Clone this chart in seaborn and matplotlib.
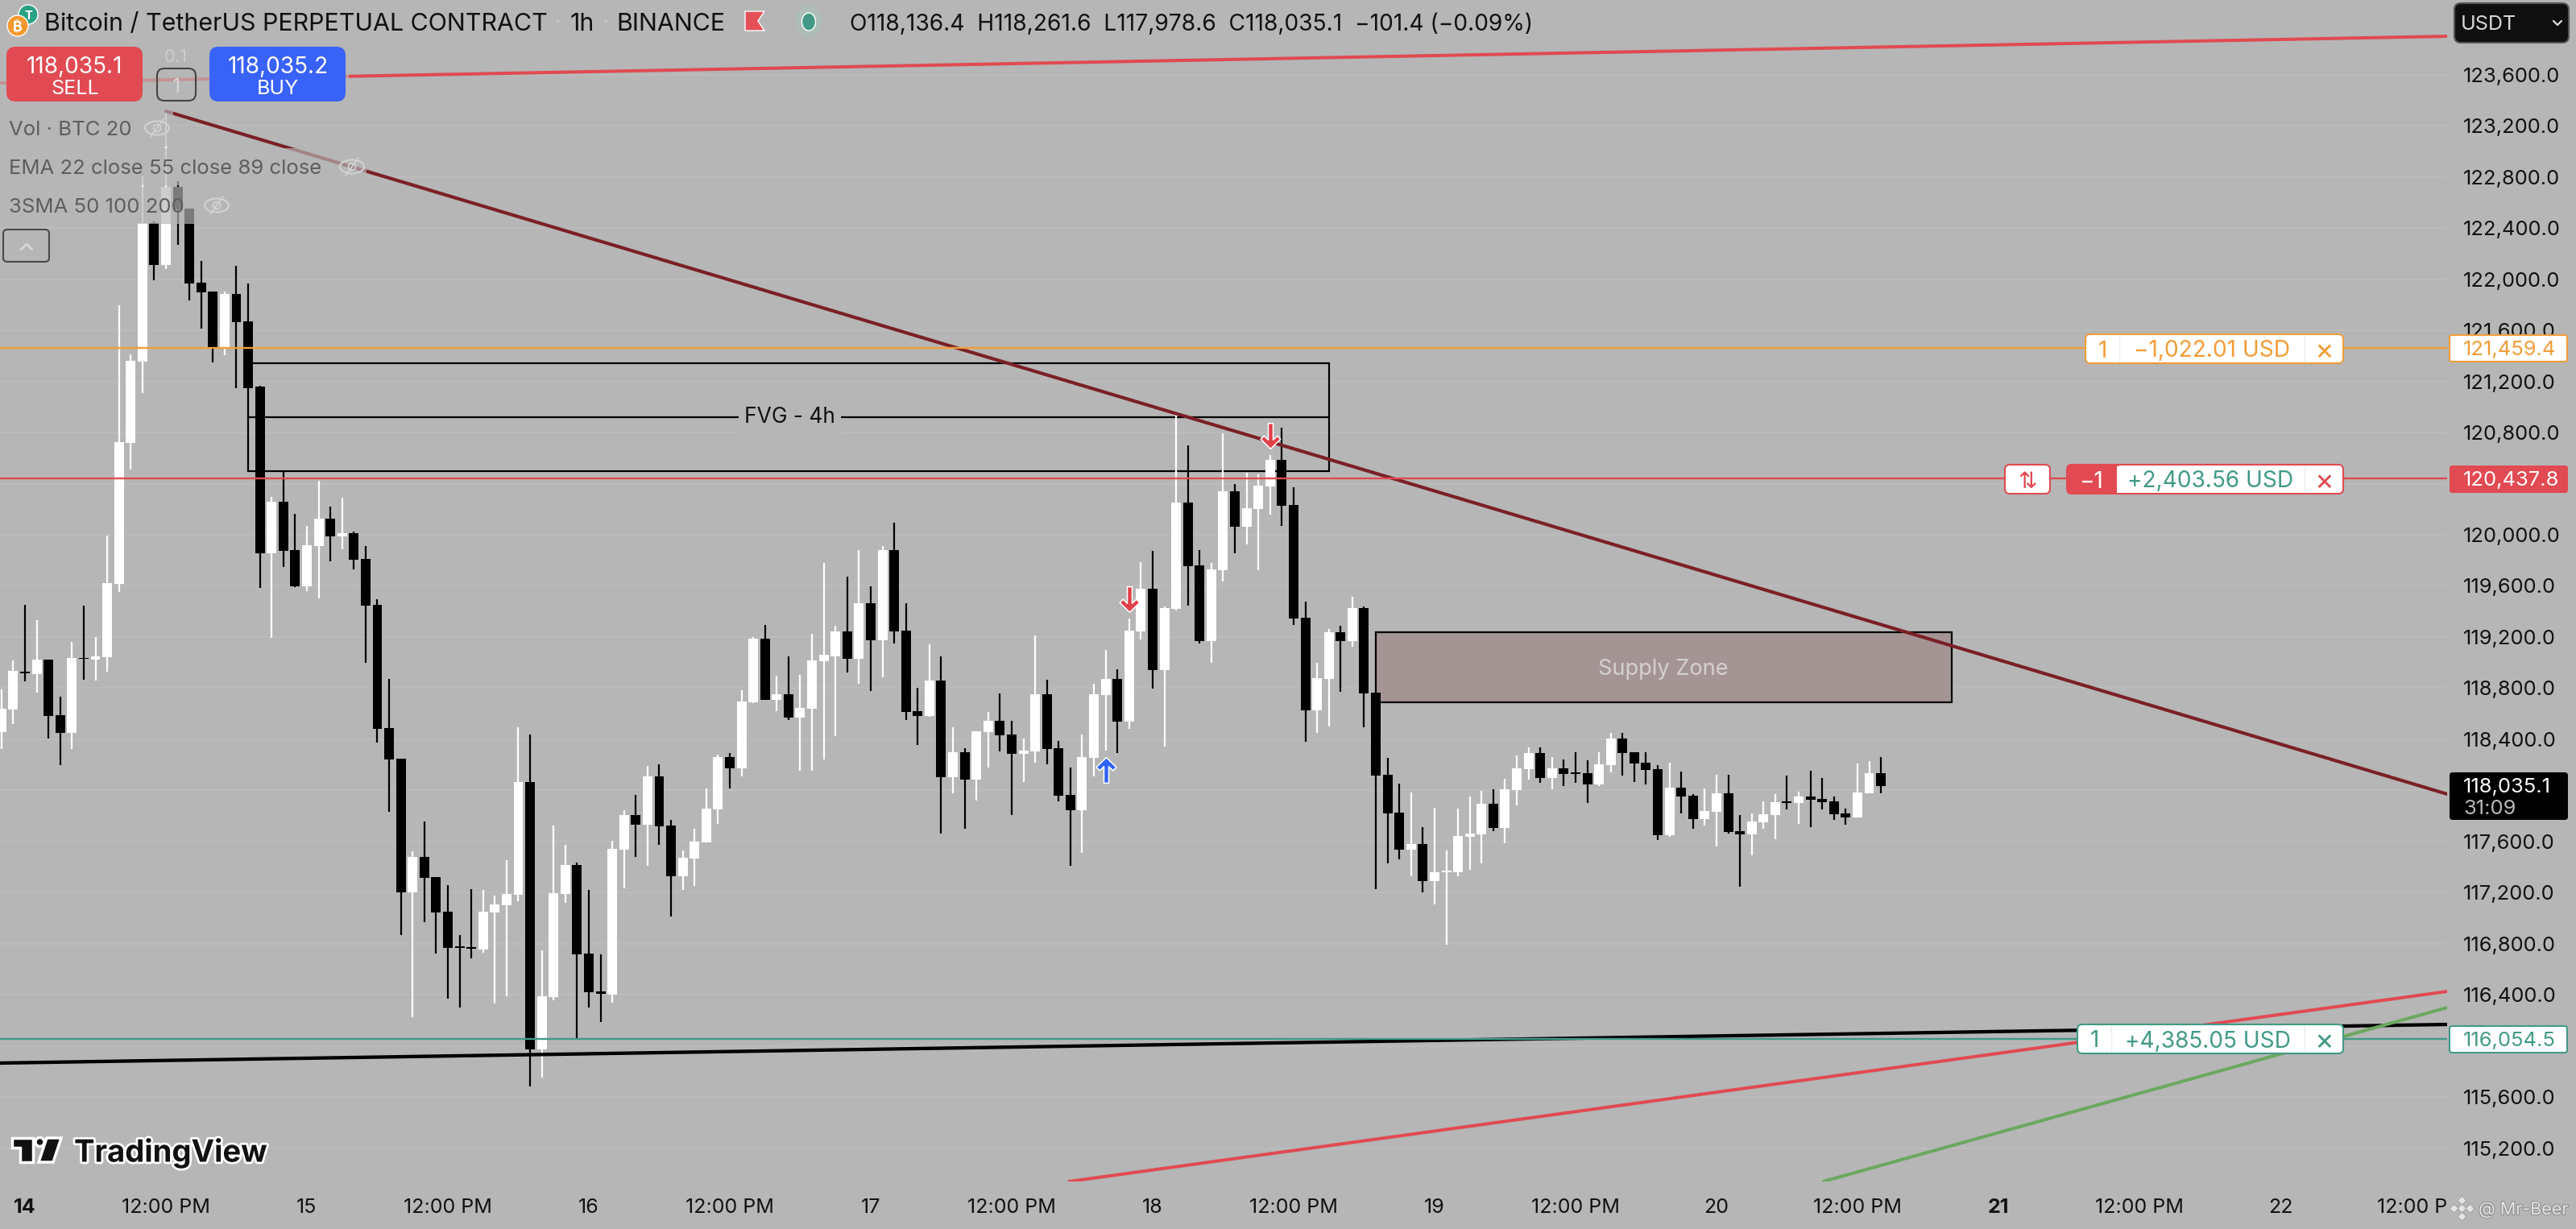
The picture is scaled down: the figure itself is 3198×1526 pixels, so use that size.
import numpy as np
import pandas as pd
import seaborn as sns
import matplotlib
matplotlib.use("Agg")
import matplotlib.pyplot as plt
import matplotlib.patheffects as pe
from matplotlib.patches import FancyBboxPatch, Rectangle, Circle, Ellipse, Polygon
from matplotlib.path import Path
from matplotlib.transforms import Bbox

# ---------- data (hours since the 14th 00:00, USDT prices) ----------
first_hour = -2
opens = [118459,118632,118929,118911,119023,118587,118449,119039,119023,119042,
119615,120717,121353,122436,122110,122720,122554,121970,121903,121459,
121886,121669,121156,119854,120259,119880,119596,119912,120126,119986,
120013,119810,119452,118488,118248,117203,117480,117323,117052,116780,
116775,116756,117045,117102,117183,118066,115975,116385,117192,117417,
116725,116430,116404,117538,117807,117732,118111,117726,117329,117467,
117594,117853,118260,118173,118690,119188,118707,118752,118570,118640,
119011,119048,119244,119031,119464,119174,119880,119250,118620,118584,
118859,118105,118300,118085,118457,118543,118437,118285,118305,118753,
118331,117965,117844,118254,118746,118871,118539,119245,119578,118941,
119421,120253,119761,119168,119722,120339,120062,120202,120378,120585,
120233,119351,118625,118871,119240,119168,119428,118765,118123,117827,
117537,117579,117291,117360,117360,117638,117656,117896,117707,118003,
118167,118293,118097,118173,118142,118135,118047,118198,118406,118299,
118217,118167,117650,118022,117959,117776,117833,117978,117682,117656,
117751,117808,117915,117902,117953,117934,117915,117820,117789,117978,
118136.4]
highs = [118791,119018,119452,119332,119023,118734,119162,119447,119198,119993,
121794,121409,122802,122448,123313,122766,122554,122139,121903,121905,
122103,121966,121163,120295,120493,120162,120068,120423,120223,120290,
120023,119912,119496,118872,118248,117527,117757,117323,117258,116869,
117227,117223,117178,117456,118494,118437,116750,117726,117574,117436,
117225,116719,117605,117847,117965,118193,118204,117771,117532,117701,
118016,118280,118294,118783,119199,119295,118899,119048,118904,119225,
119779,119289,119672,119880,119596,119911,120094,119464,118800,119146,
119048,118495,118331,118461,118613,118758,118543,118406,119211,118866,
118387,118179,118437,118835,119098,118948,119344,119785,119874,119438,
120942,120699,119879,119780,120793,120397,120484,120472,120624,120838,
120371,119476,118999,119262,119288,119515,119438,118765,118255,118051,
117984,117713,117864,117530,117858,117953,117997,118009,118091,118274,
118337,118337,118261,118242,118299,118236,118299,118450,118450,118299,
118299,118198,118217,118148,117971,118016,118123,118123,117808,117820,
117915,117971,118116,117990,118154,118097,117953,117858,118211,118230,
118261.6]
lows = [118324,118519,118854,118765,118407,118198,118324,118867,118859,118929,
119555,120512,121107,121990,122079,122269,121833,121611,121348,121404,
121146,121146,119584,119193,119748,119591,119557,119504,119793,119885,
119728,118997,118373,117833,116869,116227,116971,116723,116370,116302,
116686,116733,116334,116390,117135,115685,115754,116359,117121,116064,
116303,116188,116342,117234,117481,117411,117574,117015,117223,117254,
117594,117737,118016,118111,118682,118707,118620,118550,118153,118153,
118243,118426,118924,118834,118778,118885,119149,118550,118356,118575,
117664,117977,117700,117924,118179,118305,117808,118066,118218,118204,
117914,117410,117512,118109,118314,118293,118483,119180,118797,118343,
119409,119445,119151,118999,119635,119855,119925,119722,120156,120069,
119293,118382,118449,118500,118772,119124,118495,117230,117430,117461,
117331,117205,117111,116791,117331,117379,117430,117682,117587,117883,
118085,118060,118009,118034,118060,117902,118034,118141,118116,118066,
118047,117612,117638,117820,117701,117726,117562,117663,117247,117493,
117701,117619,117852,117738,117713,117852,117770,117732,117789,117978,
117978.6]
closes = [118640,118935,118919,119023,118582,118449,119037,119029,119050,119622,
120724,121360,122436,122110,122720,122544,121966,121896,121459,121886,
121662,121146,119854,120259,119873,119596,119917,120126,119986,120013,
119803,119446,118480,118243,117203,117480,117316,117044,116767,116767,
116762,117051,117107,117192,118066,115975,116390,117197,117417,116719,
116421,116407,117543,117807,117732,118111,117720,117329,117473,117599,
117858,118260,118173,118696,119188,118707,118752,118570,118645,119020,
119059,119244,119031,119464,119174,119880,119244,118615,118584,118859,
118103,118300,118085,118461,118543,118430,118285,118312,118753,118324,
117958,117844,118261,118753,118871,118539,119250,119578,118941,119428,
120253,119754,119168,119729,120339,120062,120207,120385,120585,120226,
119344,118625,118879,119240,119168,119428,118758,118116,117820,117537,
117583,117291,117360,117373,117644,117661,117896,117707,118009,118173,
118293,118097,118173,118129,118131,118047,118205,118406,118293,118211,
118160,117650,118022,117953,117776,117839,117978,117675,117659,117757,
117814,117908,117904,117953,117927,117908,117814,117789,117984,118135,
118035.1]

price_ticks = list(range(115200, 124000, 400))
hidden_price_ticks = [116000, 118000, 120400]   # covered by the price tags in the reference
time_ticks = list(range(0, 216, 12))
time_labels = ["14","12:00 PM","15","12:00 PM","16","12:00 PM","17","12:00 PM","18","12:00 PM",
               "19","12:00 PM","20","12:00 PM","21","12:00 PM","22","12:00 PM"]

order_orange, order_red, order_green = 121459.4, 120437.8, 116054.5

# drawing tools: (hour, price) anchors
trend_brown = ([12, 206.2], [123313, 117972])
trend_top_red = ([-2.126, 206.2], [123534, 123899])
trend_black = ([-2.126, 206.2], [115868, 116170])
trend_low_red = ([88.9, 206.2], [114942, 116428])
trend_green = ([153.1, 206.2], [114942, 116302])
fvg_box = (19, 111, 120497, 120920, 121342)
supply_box = (115, 164, 118690, 119238)
arrows_down = ([94, 106], [119496, 120775])
arrows_up = ([92], [118161])

BG = "#b6b6b6"; RED = "#e14a52"; ORANGE = "#f29d38"; GREEN = "#429a86"; BROWN = "#7a2026"
W, H = 3198, 1526
PANE_R, PANE_B = 3038, 1467

sns.set_theme(style="white")
plt.rcParams["font.family"] = ["Inter", "DejaVu Sans"]
plt.rcParams["axes.unicode_minus"] = False

fig = plt.figure(figsize=(W / 100, H / 100), dpi=100, facecolor=BG)
ax = fig.add_axes([0, (H - PANE_B) / H, PANE_R / W, PANE_B / H])
ax.set_facecolor(BG)
ax.set_xlim(-2.126, 206.2)
ax.set_ylim(114941.7, 124182.7)
for s in ax.spines.values():
    s.set_visible(False)

ax.set_yticks(price_ticks)
ax.set_yticklabels(["" if p in hidden_price_ticks else f"{p:,.1f}" for p in price_ticks])
ax.set_xticks(time_ticks)
ax.set_xticklabels(time_labels)
ax.yaxis.tick_right()
ax.tick_params(axis="y", length=0, pad=14.0, labelsize=18.4, labelcolor="#111111")
ax.tick_params(axis="x", length=0, pad=15.0, labelsize=18, labelcolor="#111111")
ax.set_axisbelow(True)
ax.grid(axis="y", color="#bbbbbb", lw=1.44)
ax.grid(axis="x", visible=False)
clip = Bbox([[0, 0], [PANE_R + 1, H]])
for lab, txt in zip(ax.get_xticklabels(), time_labels):
    lab.set_clip_box(clip)
    lab.set_clip_on(True)
    if txt in ("14", "21"):
        lab.set_fontweight("bold")

# boxes under the candles
x0, x1, lo, mid, hi = fvg_box
ax.add_patch(Rectangle((x0, lo), x1 - x0, hi - lo, fill=False, ec="black", lw=1.6, zorder=2))
ax.plot([x0, x1], [mid, mid], color="black", lw=1.6, zorder=2)
ax.text((x0 + x1) / 2 + 0.1, mid, "FVG - 4h", ha="center", va="center", fontsize=19, color="#111111",
        zorder=2.5, bbox=dict(fc=BG, ec="none", pad=5))
sx0, sx1, slo, shi = supply_box
ax.add_patch(Rectangle((sx0, slo), sx1 - sx0, shi - slo, fc="#a59494", ec="black", lw=1.6, zorder=2))
ax.text(2065 / 14.583 - 2.126, (slo + shi) / 2 - 14, "Supply Zone", ha="center", va="center",
        fontsize=19.5, color="#d6d0d0", zorder=2.5)

# candles
df = pd.DataFrame({"open": opens, "high": highs, "low": lows, "close": closes})
df["hour"] = first_hour + np.arange(len(df))
df["up"] = df["close"] >= df["open"]
colors = np.where(df["up"], "white", "black")
ax.vlines(df["hour"], df["low"], df["high"], colors=colors, lw=1.6, zorder=3)
ax.bar(df["hour"], (df["close"] - df["open"]).abs().clip(lower=10),
       bottom=df[["open", "close"]].min(axis=1), width=0.82, color=colors, lw=0, zorder=3.1)

# lines above the candles
for (xs, ys), col, lw in [(trend_black, "black", 3.1), (trend_top_red, RED, 2.9),
                          (trend_low_red, RED, 2.9), (trend_green, "#6aa85f", 2.9),
                          (trend_brown, BROWN, 3.0)]:
    sns.lineplot(x=xs, y=ys, ax=ax, color=col, lw=lw, zorder=4, legend=False, errorbar=None)
for p, col in [(order_orange, ORANGE), (order_red, RED), (order_green, GREEN)]:
    sns.lineplot(x=[-2.126, 206.2], y=[p, p], ax=ax, color=col, lw=1.7, zorder=4.1, legend=False, errorbar=None)
ax.set_xlabel(""); ax.set_ylabel("")
ax.set_xlim(-2.126, 206.2)
ax.set_ylim(114941.7, 124182.7)

arrow_v = [(-.19, 1), (.19, 1), (.19, -.30), (.52, .02), (.78, -.24), (0, -1),
           (-.78, -.24), (-.52, .02), (-.19, -.30), (-.19, 1)]
down = Path(arrow_v, closed=True)
up = Path([(x, -y) for x, y in arrow_v], closed=True)
ax.scatter(*arrows_down, marker=down, s=520, c="#e0404a", edgecolors="white", linewidths=1.1, zorder=5)
ax.scatter(*arrows_up, marker=up, s=520, c="#2f62f5", edgecolors="white", linewidths=1.1, zorder=5)

# ---------- interface chrome, in pixel coordinates ----------
ov = fig.add_axes([0, 0, 1, 1], facecolor="none")
ov.set_xlim(0, W); ov.set_ylim(H, 0); ov.axis("off")


def T(x, y, s, px, color="#111111", ha="center", weight="normal", **kw):
    return ov.text(x, y, s, fontsize=px * 0.72, color=color, ha=ha, va="center_baseline", fontweight=weight, **kw)


def R(x0, y0, x1, y1, fc, ec="none", lw=0, r=6, z=2, alpha=None):
    p = FancyBboxPatch((x0, y0), x1 - x0, y1 - y0, boxstyle=f"round,pad=0,rounding_size={r}",
                       fc=fc, ec=ec, lw=lw, zorder=z, alpha=alpha)
    ov.add_patch(p)


# veils under the legend rows
for x0_, y0_, x1_, y1_ in [(0, 58, 433, 128), (0, 136, 215, 182), (0, 184, 455, 230), (0, 232, 290, 278)]:
    ov.add_patch(Rectangle((x0_, y0_), x1_ - x0_, y1_ - y0_, fc=BG, ec="none", alpha=0.68, zorder=1))

# header
ov.add_patch(Circle((35, 18), 12, fc="#2aa184", zorder=2))
T(35, 18, "T", 15, "white", weight="bold", zorder=3)
ov.add_patch(Circle((22, 32), 13, fc="#f2982e", zorder=3))
T(22, 32, "₿", 18, "white", weight="bold", zorder=4)
T(55, 27, "Bitcoin / TetherUS PERPETUAL CONTRACT", 30.4, ha="left", zorder=3)
T(692, 27, "·", 24, "#d0d0d0", zorder=3)
T(723, 27, "1h", 30.4, zorder=3)
T(752, 27, "·", 24, "#d0d0d0", zorder=3)
T(765, 27, "BINANCE", 30.4, ha="left", zorder=3)
ov.add_patch(Polygon([(925, 14), (949, 14), (941, 26), (949, 38), (925, 38)], fc="#e55058", zorder=3))
ov.add_patch(Ellipse((1004, 27), 32, 40, fc="#aac0b8", ec="none", alpha=0.7, zorder=3))
ov.add_patch(Ellipse((1004, 27), 17, 22, fc="#429a86", zorder=4))
T(1055, 27, "O118,136.4  H118,261.6  L117,978.6  C118,035.1  −101.4 (−0.09%)", 28.2, ha="left", zorder=3)

# trade buttons
R(8, 58, 177, 126, RED, r=11)
T(93, 81, "118,035.1", 28, "white", zorder=3)
T(93, 108, "SELL", 25, "white", zorder=3)
R(260, 58, 429, 126, "#3862f8", r=11)
T(345, 81, "118,035.2", 28, "white", zorder=3)
T(345, 108, "BUY", 25, "white", zorder=3)
T(218, 69, "0.1", 22, "#cdcdcd", zorder=3)
R(195, 85, 243, 125, "none", ec="#444444", lw=1.5, r=9)
T(219, 106, "1", 25, "#d4d4d4", zorder=3)

# legend
T(11, 159, "Vol · BTC 20", 25.7, "#5e5e5e", ha="left", zorder=3)
T(11, 207, "EMA 22 close 55 close 89 close", 25.7, "#5e5e5e", ha="left", zorder=3)
T(11, 255, "3SMA 50 100 200", 25.7, "#5e5e5e", ha="left", zorder=3)
for ex, ey in [(195, 159), (437, 207), (269, 255)]:
    ov.add_patch(Ellipse((ex, ey), 30, 17, fc="none", ec="#d2d2d2", lw=1.5, zorder=3))
    ov.add_patch(Circle((ex, ey), 4.5, fc="none", ec="#d2d2d2", lw=1.3, zorder=3))
    ov.plot([ex - 8, ex + 8], [ey + 11, ey - 11], color="#d2d2d2", lw=1.3, zorder=3)
R(4, 285, 61, 325, "none", ec="#4a4a4a", lw=1.5, r=5)
ov.plot([26, 33, 40], [310, 303, 310], color="#d6d6d6", lw=2, zorder=3)

# order labels on the lines
R(2589, 415, 2909, 451, "white", ec=ORANGE, lw=1.5, r=6, z=3)
T(2610, 433, "1", 28, ORANGE, zorder=4)
T(2746, 433, "−1,022.01 USD", 28, ORANGE, zorder=4)
T(2885, 433, "×", 36, ORANGE, zorder=4)
for sx in (2631, 2861):
    ov.plot([sx, sx], [417, 449], color="#ececec", lw=1, zorder=4)

R(2489, 577, 2545, 613, "white", ec=RED, lw=1.5, r=6, z=3)
T(2517, 595, "⇅", 28, RED, zorder=4)
R(2566, 577, 2909, 613, "white", ec=RED, lw=1.5, r=6, z=3)
R(2566, 577, 2632, 613, RED, r=6, z=3.2)
ov.add_patch(Rectangle((2618, 577), 10, 36, fc=RED, ec="none", zorder=3.3))
ov.add_patch(Rectangle((2628, 578.5), 8, 33, fc="white", ec="none", zorder=3.3))
T(2596, 595, "−1", 28, "white", zorder=4)
T(2744, 595, "+2,403.56 USD", 28, GREEN, zorder=4)
T(2885, 595, "×", 36, RED, zorder=4)
ov.plot([2861, 2861], [579, 611], color="#ececec", lw=1, zorder=4)

R(2579, 1272, 2909, 1308, "white", ec=GREEN, lw=1.5, r=6, z=3)
T(2600, 1290, "1", 28, GREEN, zorder=4)
T(2741, 1290, "+4,385.05 USD", 28, GREEN, zorder=4)
T(2885, 1290, "×", 36, GREEN, zorder=4)
for sx in (2621, 2861):
    ov.plot([sx, sx], [1274, 1306], color="#ececec", lw=1, zorder=4)

# price axis tags
R(3041, 416, 3187, 449, "white", ec=ORANGE, lw=1.5, r=3, z=3)
T(3058, 432, "121,459.4", 25.6, ORANGE, ha="left", zorder=4)
R(3041, 578, 3188, 612, RED, r=3, z=3)
T(3058, 594, "120,437.8", 25.6, "white", ha="left", zorder=4)
R(3041, 959, 3188, 1018, "black", r=4, z=3)
T(3058, 975, "118,035.1", 25.6, "white", ha="left", zorder=4)
T(3058, 1002, "31:09", 25.6, "#b8b8b8", ha="left", zorder=4)
R(3041, 1274, 3187, 1307, "white", ec=GREEN, lw=1.5, r=3, z=3)
T(3058, 1290, "116,054.5", 25.6, GREEN, ha="left", zorder=4)

# currency selector
R(3047, 4, 3189, 53, "#0f0f0f", ec="#555555", lw=1.5, r=8, z=3)
T(3055, 28, "USDT", 25, "#d8d8d8", ha="left", zorder=4)
ov.plot([3170, 3175, 3180], [26, 31, 26], color="#e0e0e0", lw=1.6, zorder=4)

# TradingView mark
stroke = [pe.withStroke(linewidth=4, foreground="white")]
logo_kw = dict(fc="#111111", ec="white", lw=2.5, zorder=3, joinstyle="miter")
ov.add_patch(Polygon([(15, 1413), (41, 1413), (41, 1443), (25, 1443), (25, 1425), (15, 1425)], **logo_kw))
ov.add_patch(Circle((49.5, 1418), 5.5, **{k: v for k, v in logo_kw.items() if k != "joinstyle"}))
ov.add_patch(Polygon([(58, 1413), (76, 1413), (66, 1443), (48, 1443)], **logo_kw))
ov.text(92, 1428, "TradingView", fontsize=27.5, fontweight="bold", color="#111111", ha="left", va="center_baseline",
        path_effects=stroke, zorder=3)

# watermark
wm = [pe.withStroke(linewidth=1.5, foreground="#8e8e8e")]
T(3077, 1500, "@ Mr-Beer", 21.5, "#e6e6e6", ha="left", path_effects=wm, zorder=5)
ov.scatter([3056, 3056, 3056, 3046, 3066], [1490, 1500, 1510, 1500, 1500], marker="D", s=32, c="#e4e4e4",
           edgecolors="#9a9a9a", linewidths=0.6, zorder=5)

fig.savefig("out.png", dpi=100, facecolor=BG)
